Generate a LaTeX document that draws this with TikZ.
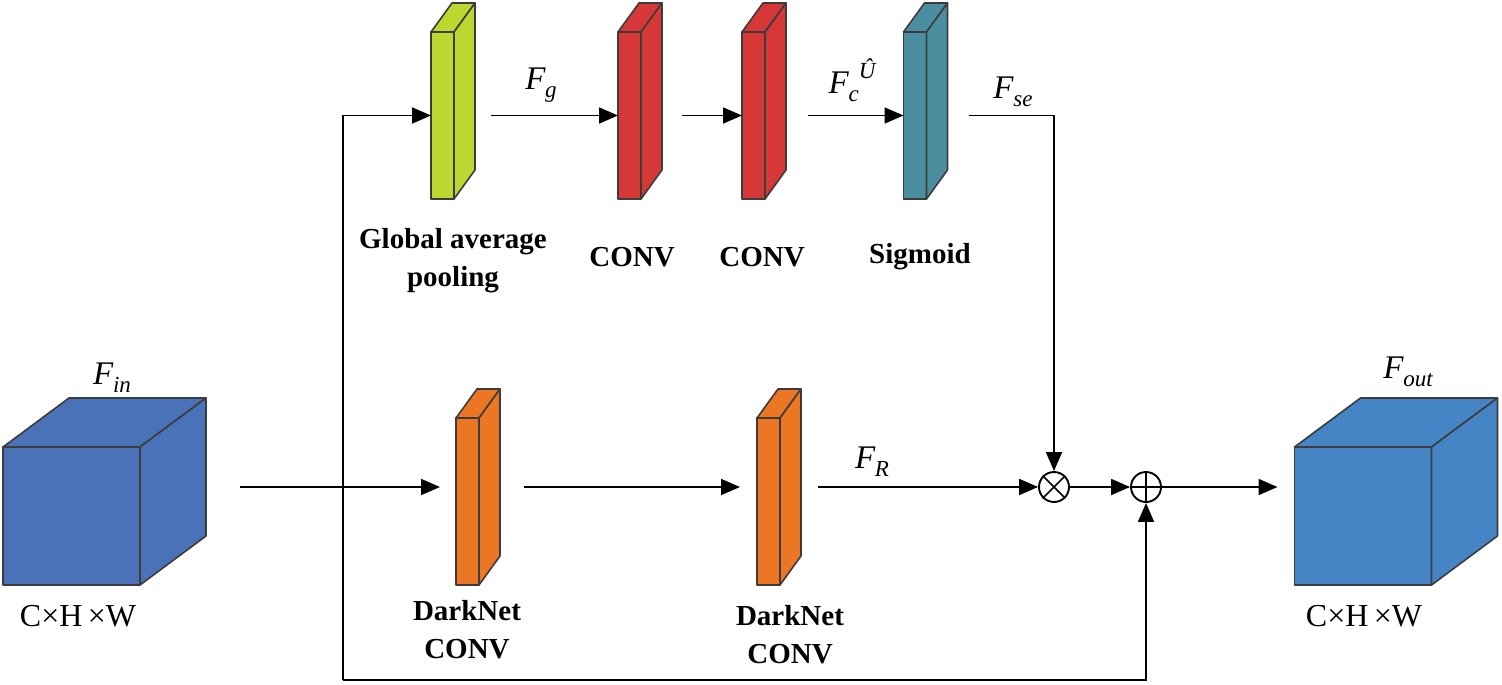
\documentclass[tikz,border=0pt]{standalone}
\usepackage{fontspec}
\setmainfont{Liberation Serif}
\usetikzlibrary{arrows.meta}
\definecolor{edge}{HTML}{3C3C3C}
\definecolor{cubeL}{HTML}{4A72B8}
\definecolor{cubeR}{HTML}{4585C6}
\definecolor{gapc}{HTML}{BED630}
\definecolor{convc}{HTML}{D63838}
\definecolor{sigc}{HTML}{4A8EA0}
\definecolor{darkc}{HTML}{EB7623}
\newcommand\barthreed[2]{%
  \draw[face,fill=#2] (#1.north west) -- ++(21,-29) -- ++(23,0) -- (#1.north east) -- cycle;
  \draw[face,fill=#2] (#1.north east) -- ++(21,-29) -- ++(0,167) -- (#1.south east) -- cycle;}
\newcommand\cubethreed[2]{%
  \draw[face,fill=#2] (#1.north west) -- ++(66,-49) -- ++(137,0) -- (#1.north east) -- cycle;
  \draw[face,fill=#2] (#1.north east) -- ++(66,-49) -- ++(0,138) -- (#1.south east) -- cycle;}
\newcommand\Fsub[1]{\textit{F}\kern-0.5pt\raisebox{-8pt}{\fontsize{23}{23}\selectfont\itshape #1}}
\begin{document}
\begin{tikzpicture}[x=1pt,y=-1pt,
  face/.style={draw=edge, line width=1.6pt, line join=round},
  barbox/.style={face, minimum width=23pt, minimum height=167pt, inner sep=0pt, outer sep=0pt},
  cubebox/.style={face, minimum width=137pt, minimum height=138pt, inner sep=0pt, outer sep=0pt},
  arr/.style={line width=1.8pt, -{Triangle[length=19pt,width=16pt]}},
  lab/.style={font=\fontsize{29}{38}\selectfont\bfseries, align=center, inner sep=0pt},
  flab/.style={font=\fontsize{33}{33}\selectfont, inner sep=0pt},
  dim/.style={font=\fontsize{32}{32}\selectfont, inner sep=0pt},
  op/.style={circle, draw, line width=1.9pt, minimum size=30pt, inner sep=0pt}]
\useasboundingbox (0,0) rectangle (1502,685);
% cubes
\node[cubebox, fill=cubeL] (cin) at (71.5,516) {};
\cubethreed{cin}{cubeL}
\node[cubebox, fill=cubeR] (cout) at (1363,516) {};
\cubethreed{cout}{cubeR}
% bars
\node[barbox, fill=gapc] (gap) at (442.5,115.5) {};
\barthreed{gap}{gapc}
\node[barbox, fill=convc] (c1) at (629.5,115.5) {};
\barthreed{c1}{convc}
\node[barbox, fill=convc] (c2) at (753.5,115.5) {};
\barthreed{c2}{convc}
\node[barbox, fill=sigc] (sig) at (915,115.5) {};
\barthreed{sig}{sigc}
\node[barbox, fill=darkc] (d1) at (467.5,501.5) {};
\barthreed{d1}{darkc}
\node[barbox, fill=darkc] (d2) at (768.5,501.5) {};
\barthreed{d2}{darkc}
% operators
\node[op] (mul) at (1054,487) {};
\draw[line width=1.6pt] (mul.north west) -- (mul.south east) (mul.north east) -- (mul.south west);
\node[op] (add) at (1146,487) {};
\draw[line width=1.3pt] (add.north) -- (add.south) (add.west) -- (add.east);
% coordinates
\coordinate (inS) at (240,487);
\coordinate (bl) at (343,680);
% connectors
\draw[arr] (inS) -- ([xshift=-16pt]d1.west |- inS);
\draw[arr] ([xshift=45pt]d1.east |- inS) -- ([xshift=-17pt]d2.west |- inS);
\draw[arr] ([xshift=38pt]d2.east |- inS) -- (mul.west);
\draw[arr] (mul.east) -- (add.west);
\draw[arr] (add.east) -- ([xshift=-17pt]cout.west |- add.east);
\draw[arr] (bl) |- (gap.west);
\draw[arr] (bl) -| (add.south);
\draw[arr] ([xshift=37pt]gap.east) -- (c1.west);
\draw[arr] ([xshift=41pt]c1.east) -- (c2.west);
\draw[arr] ([xshift=43pt]c2.east) -- (sig.west);
\draw[arr] ([xshift=42pt]sig.east) -| (mul.north);
% labels
\node[flab] (lin) at (112,378) {\Fsub{in}};
\node[flab] (lout) at (1408,372) {\Fsub{out}};
\node[dim] (dimL) at (78,616) {C×H\,×W};
\node[dim] (dimR) at (1364,616) {C×H\,×W};
\node[flab] (lg) at (541,85) {\Fsub{g}};
\node[flab] (lc) at (852,80) {\Fsub{c}\raisebox{15pt}{\fontsize{23}{23}\selectfont\itshape Û}};
\node[flab] (lse) at (1013,92) {\Fsub{se}};
\node[flab] (lr) at (872,462) {\Fsub{R}};
\node[lab] (tg) at (453,261) {Global average\\pooling};
\node[lab] (t1) at (632,257) {CONV};
\node[lab] (t2) at (762,257) {CONV};
\node[lab] (ts) at (920,257) {Sigmoid};
\node[lab] (td1) at (467,630) {DarkNet\\CONV};
\node[lab] (td2) at (790,635) {DarkNet\\CONV};
\end{tikzpicture}
\end{document}
